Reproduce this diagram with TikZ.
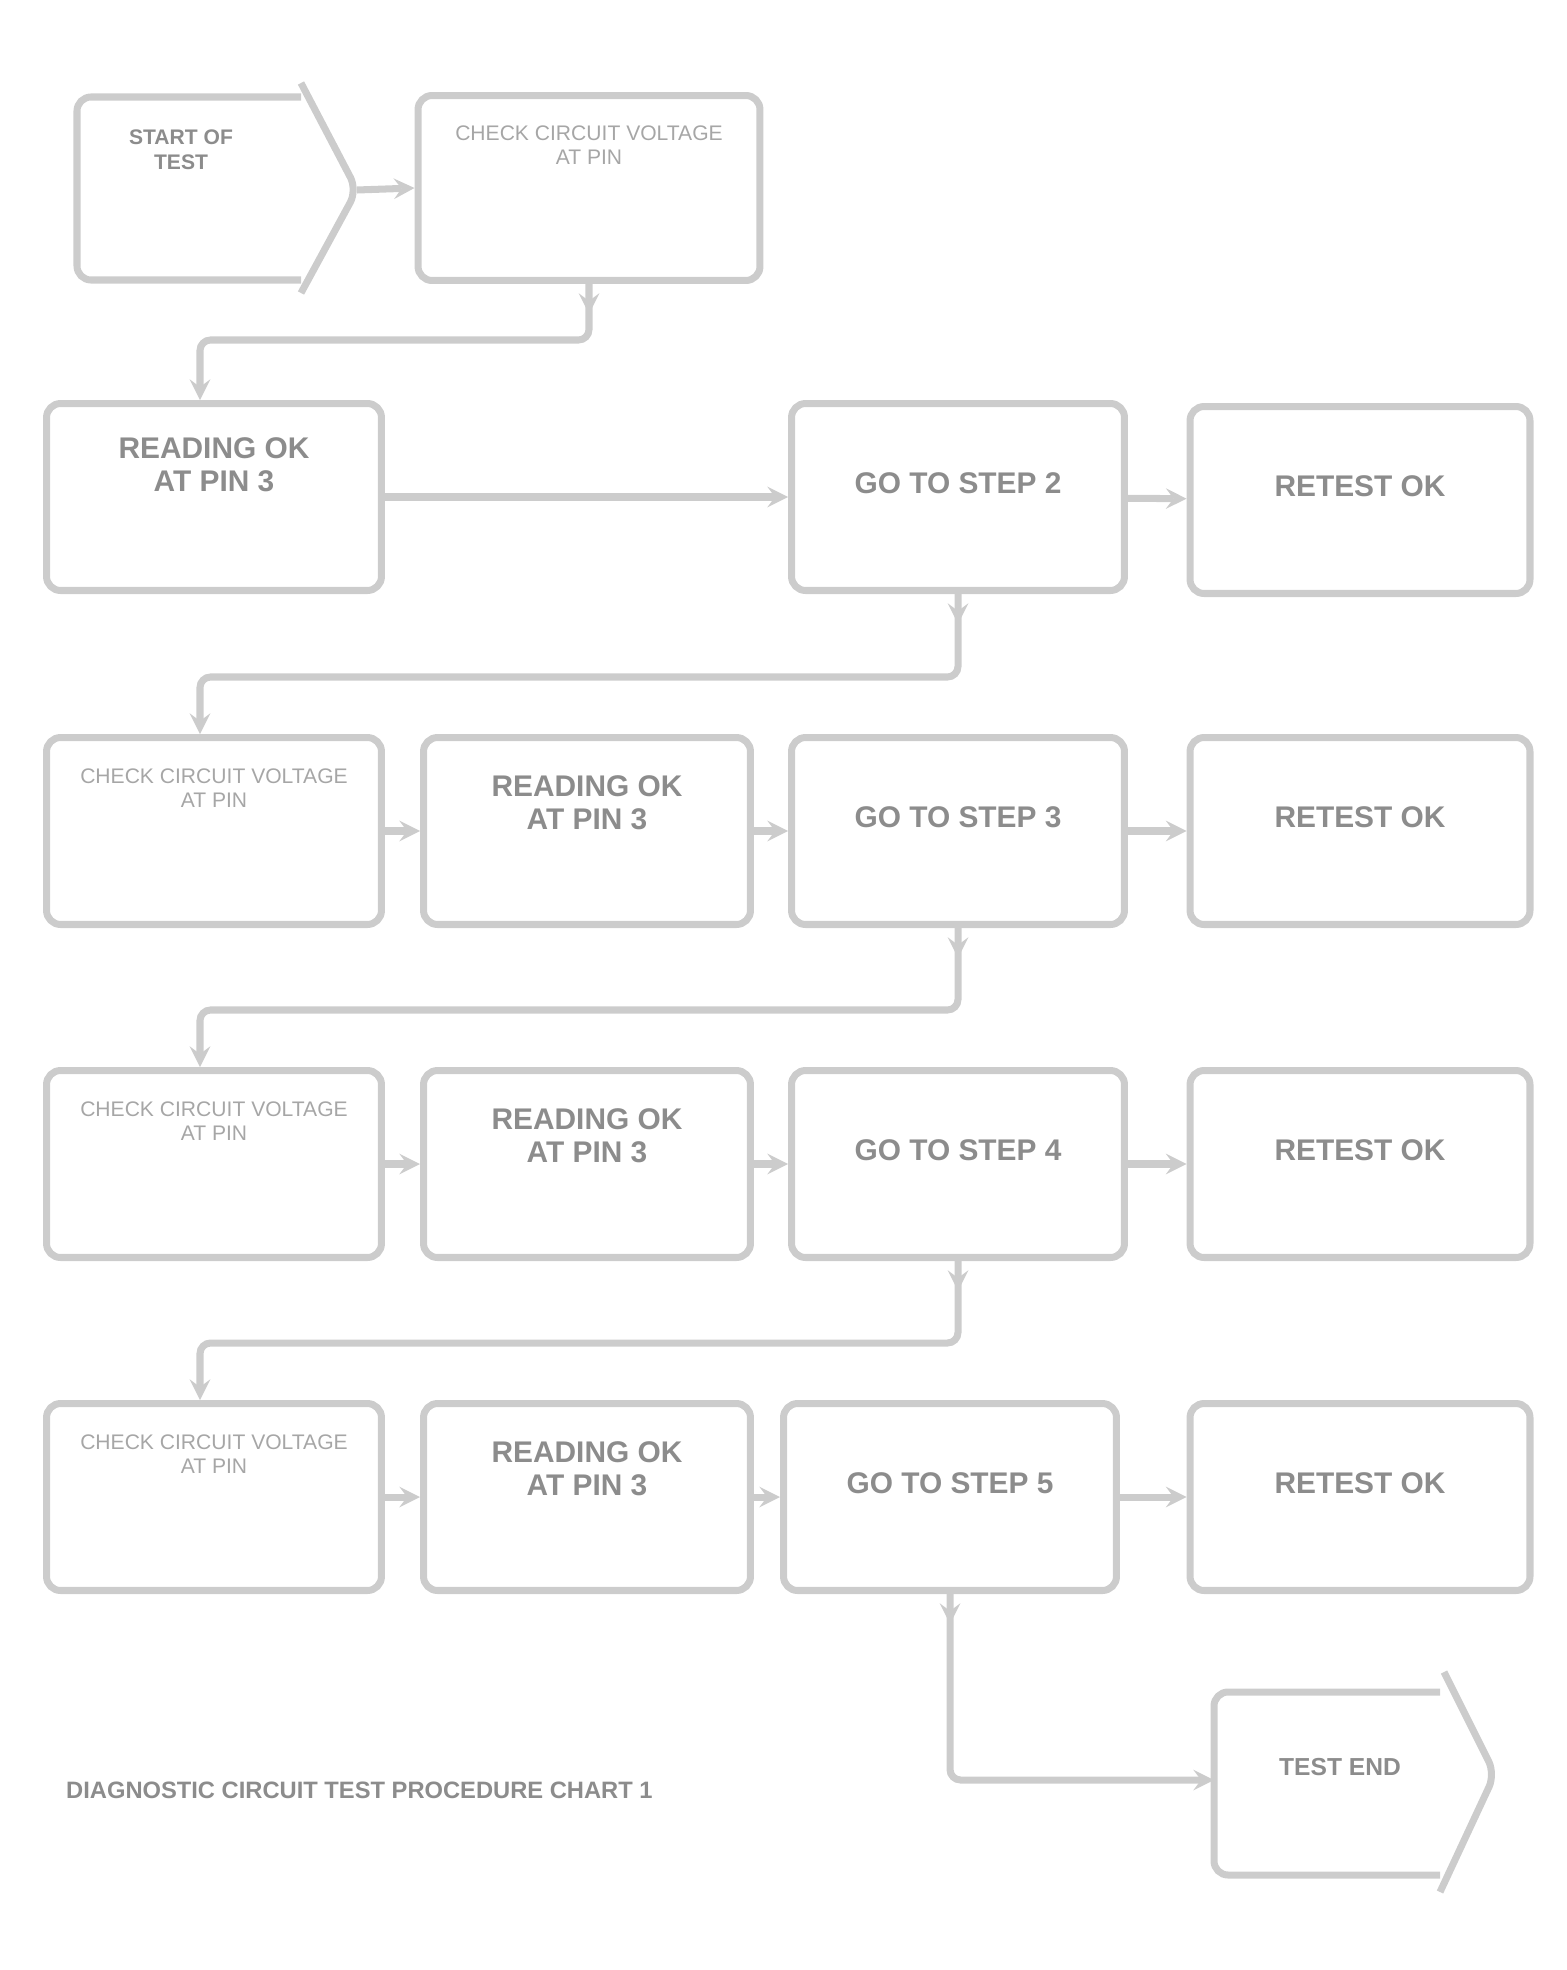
\documentclass[tikz,border=0pt]{standalone}
\usepackage{fontspec}
\setmainfont{Liberation Sans}
\usetikzlibrary{decorations.markings}
\begin{document}
\begin{tikzpicture}[x=0.02cm, y=-0.02cm, >=stealth,
        bordo/.style={draw=black!20, line width=4pt, rounded corners=8pt},
        riquadro/.style={bordo, minimum width=6.7cm, minimum height=3.74cm},
        forte/.style={align=center, text=black!45, font=\fontsize{17}{19}\selectfont\bfseries},
        tenue/.style={align=center, text=black!35, font=\fontsize{12}{14}\selectfont},
        linea/.style={draw=black!20, line width=4pt, ->},
        giro/.style={linea, rounded corners=6pt, postaction={decorate},
            decoration={markings, mark=at position 0.6cm with {\arrow{stealth}}}}]
        \useasboundingbox (0,0) rectangle (1566,1970);

        % Inizio
        \draw[bordo] (301,97) -- (77,97) -- (77,280) -- (301,280);
        \draw[bordo] (301,83) -- (357,190) -- (301,293);
        \coordinate (punta) at (357,190);
        \node[forte, font=\fontsize{12}{14}\selectfont\bfseries] (avvio) at (181,150) {START OF\\TEST};
        \node[riquadro, minimum width=6.84cm, minimum height=3.7cm,
            label={[tenue, yshift=0.86cm]center:CHECK CIRCUIT VOLTAGE\\AT PIN}] (b0) at (589,188) {};
        \draw[linea] (punta) -- (b0.west);

        % Riga 1
        \node[riquadro, label={[forte, yshift=0.64cm]center:READING OK\\AT PIN 3}] (c1) at (214,497) {};
        \node[riquadro, minimum width=6.66cm, label={[forte, yshift=0.28cm]center:GO TO STEP 2}] (d1) at (958,497) {};
        \node[riquadro, minimum width=6.8cm, label={[forte, yshift=0.28cm]center:RETEST OK}] (e1) at (1360,500) {};
        \coordinate (k0) at (200,340);
        \draw[giro] (b0.south) |- (k0) -- (k0 |- c1.north);
        \draw[linea] (c1) -- (d1);
        \draw[linea] (d1) -- (e1);

        % Riga 2
        \node[riquadro, label={[tenue, yshift=0.86cm]center:CHECK CIRCUIT VOLTAGE\\AT PIN}] (f2) at (214,831) {};
        \node[riquadro, minimum width=6.54cm, label={[forte, yshift=0.56cm]center:READING OK\\AT PIN 3}] (g2) at (587,831) {};
        \node[riquadro, minimum width=6.66cm, label={[forte, yshift=0.28cm]center:GO TO STEP 3}] (h2) at (958,831) {};
        \node[riquadro, minimum width=6.8cm, label={[forte, yshift=0.28cm]center:RETEST OK}] (i2) at (1360,831) {};
        \coordinate (k1) at (200,677);
        \draw[giro] (d1.south) |- (k1) -- (k1 |- f2.north);
        \draw[linea] (f2) -- (g2);
        \draw[linea] (g2) -- (h2);
        \draw[linea] (h2) -- (i2);

        % Riga 3
        \node[riquadro, label={[tenue, yshift=0.86cm]center:CHECK CIRCUIT VOLTAGE\\AT PIN}] (f3) at (214,1164) {};
        \node[riquadro, minimum width=6.54cm, label={[forte, yshift=0.56cm]center:READING OK\\AT PIN 3}] (g3) at (587,1164) {};
        \node[riquadro, minimum width=6.66cm, label={[forte, yshift=0.28cm]center:GO TO STEP 4}] (h3) at (958,1164) {};
        \node[riquadro, minimum width=6.8cm, label={[forte, yshift=0.28cm]center:RETEST OK}] (i3) at (1360,1164) {};
        \coordinate (k2) at (200,1010);
        \draw[giro] (h2.south) |- (k2) -- (k2 |- f3.north);
        \draw[linea] (f3) -- (g3);
        \draw[linea] (g3) -- (h3);
        \draw[linea] (h3) -- (i3);

        % Riga 4
        \node[riquadro, label={[tenue, yshift=0.86cm]center:CHECK CIRCUIT VOLTAGE\\AT PIN}] (f4) at (214,1497) {};
        \node[riquadro, minimum width=6.54cm, label={[forte, yshift=0.56cm]center:READING OK\\AT PIN 3}] (g4) at (587,1497) {};
        \node[riquadro, minimum width=6.66cm, label={[forte, yshift=0.28cm]center:GO TO STEP 5}] (h4) at (950,1497) {};
        \node[riquadro, minimum width=6.8cm, label={[forte, yshift=0.28cm]center:RETEST OK}] (i4) at (1360,1497) {};
        \coordinate (k3) at (200,1343);
        \draw[giro] (h3.south) |- (k3) -- (k3 |- f4.north);
        \draw[linea] (f4) -- (g4);
        \draw[linea] (g4) -- (h4);
        \draw[linea] (h4) -- (i4);

        % Fine
        \draw[bordo] (1440,1692) -- (1214,1692) -- (1214,1875) -- (1440,1875);
        \draw[bordo] (1444,1672) -- (1495,1774) -- (1440,1892);
        \coordinate (ingresso) at (1214,1780);
        \node[forte, font=\fontsize{14}{16}\selectfont\bfseries] (fine) at (1340,1767) {TEST END};
        \draw[giro] (h4.south) |- (ingresso);

        % Didascalia
        \node[forte, anchor=west, font=\fontsize{13.5}{16}\selectfont\bfseries] (didascalia) at (60,1790)
            {DIAGNOSTIC CIRCUIT TEST PROCEDURE CHART 1};
    \end{tikzpicture}
\end{document}
